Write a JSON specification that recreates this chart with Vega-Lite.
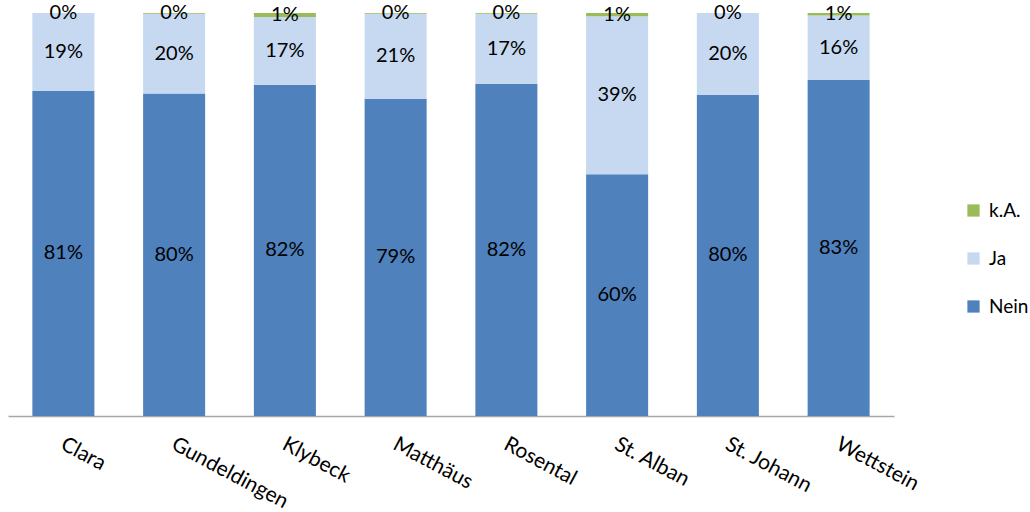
{
  "$schema": "https://vega.github.io/schema/vega-lite/v6.json",
  "autosize": "none",
  "padding": {"left": 8, "top": 13, "right": 136, "bottom": 96},
  "width": 886,
  "height": 403,
  "background": "white",
  "config": {
    "view": {"stroke": null},
    "font": "Lato",
    "text": {"font": "Lato"}
  },
  "data": {
    "values": [
      {"Quartier": "Clara", "Antwort": "Nein", "ord": 1, "Anteil": 0.807},
      {"Quartier": "Clara", "Antwort": "Ja", "ord": 2, "Anteil": 0.193},
      {"Quartier": "Clara", "Antwort": "k.A.", "ord": 3, "Anteil": 0.0},
      {"Quartier": "Gundeldingen", "Antwort": "Nein", "ord": 1, "Anteil": 0.800},
      {"Quartier": "Gundeldingen", "Antwort": "Ja", "ord": 2, "Anteil": 0.198},
      {"Quartier": "Gundeldingen", "Antwort": "k.A.", "ord": 3, "Anteil": 0.002},
      {"Quartier": "Klybeck", "Antwort": "Nein", "ord": 1, "Anteil": 0.822},
      {"Quartier": "Klybeck", "Antwort": "Ja", "ord": 2, "Anteil": 0.168},
      {"Quartier": "Klybeck", "Antwort": "k.A.", "ord": 3, "Anteil": 0.010},
      {"Quartier": "Matthäus", "Antwort": "Nein", "ord": 1, "Anteil": 0.787},
      {"Quartier": "Matthäus", "Antwort": "Ja", "ord": 2, "Anteil": 0.211},
      {"Quartier": "Matthäus", "Antwort": "k.A.", "ord": 3, "Anteil": 0.002},
      {"Quartier": "Rosental", "Antwort": "Nein", "ord": 1, "Anteil": 0.824},
      {"Quartier": "Rosental", "Antwort": "Ja", "ord": 2, "Anteil": 0.174},
      {"Quartier": "Rosental", "Antwort": "k.A.", "ord": 3, "Anteil": 0.002},
      {"Quartier": "St. Alban", "Antwort": "Nein", "ord": 1, "Anteil": 0.600},
      {"Quartier": "St. Alban", "Antwort": "Ja", "ord": 2, "Anteil": 0.392},
      {"Quartier": "St. Alban", "Antwort": "k.A.", "ord": 3, "Anteil": 0.008},
      {"Quartier": "St. Johann", "Antwort": "Nein", "ord": 1, "Anteil": 0.797},
      {"Quartier": "St. Johann", "Antwort": "Ja", "ord": 2, "Anteil": 0.203},
      {"Quartier": "St. Johann", "Antwort": "k.A.", "ord": 3, "Anteil": 0.0},
      {"Quartier": "Wettstein", "Antwort": "Nein", "ord": 1, "Anteil": 0.834},
      {"Quartier": "Wettstein", "Antwort": "Ja", "ord": 2, "Anteil": 0.160},
      {"Quartier": "Wettstein", "Antwort": "k.A.", "ord": 3, "Anteil": 0.006}
    ]
  },
  "transform": [
    {
      "stack": "Anteil",
      "groupby": ["Quartier"],
      "sort": [{"field": "ord", "order": "ascending"}],
      "offset": "normalize",
      "as": ["unten", "oben"]
    },
    {"calculate": "(datum.unten + datum.oben) / 2", "as": "mitte"}
  ],
  "encoding": {
    "x": {
      "field": "Quartier",
      "type": "nominal",
      "sort": null,
      "scale": {"paddingInner": 0.44, "paddingOuter": 0.22},
      "axis": {
        "title": null,
        "labelAngle": 28,
        "labelAlign": "left",
        "labelBaseline": "top",
        "labelFontSize": 21,
        "labelColor": "black",
        "labelPadding": 17,
        "labelOffset": 4,
        "ticks": false,
        "domainColor": "#A6A6A6",
        "domainWidth": 1.5
      }
    }
  },
  "layer": [
    {
      "mark": {"type": "bar"},
      "encoding": {
        "y": {
          "field": "unten",
          "type": "quantitative",
          "scale": {"domain": [0, 1]},
          "axis": null
        },
        "y2": {"field": "oben"},
        "color": {
          "field": "Antwort",
          "type": "nominal",
          "scale": {
            "domain": ["k.A.", "Ja", "Nein"],
            "range": ["#9BBB59", "#C6D9F1", "#4F81BD"]
          },
          "legend": {
            "title": null,
            "orient": "none",
            "legendX": 956,
            "legendY": 188,
            "symbolType": "square",
            "symbolSize": 150,
            "symbolStrokeWidth": 0,
            "labelFontSize": 19,
            "labelColor": "black",
            "rowPadding": 28,
            "labelOffset": 6
          }
        }
      }
    },
    {
      "mark": {"type": "text", "fontSize": 20, "color": "black", "baseline": "middle"},
      "encoding": {
        "y": {
          "field": "mitte",
          "type": "quantitative",
          "scale": {"domain": [0, 1]},
          "axis": null
        },
        "text": {"field": "Anteil", "type": "quantitative", "format": ".0%"}
      }
    }
  ]
}
